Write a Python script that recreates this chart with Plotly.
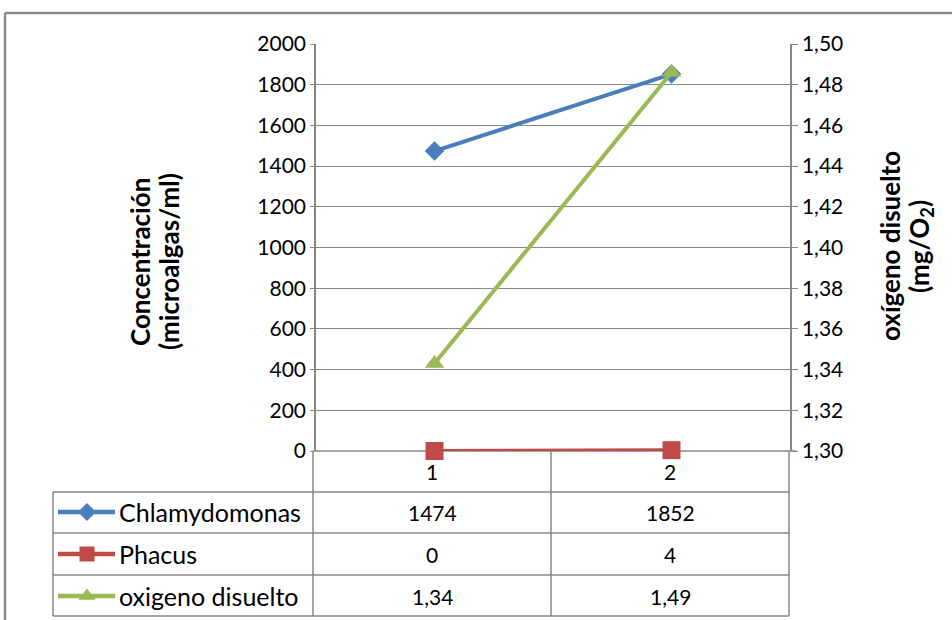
import plotly.graph_objects as go

categories = [1, 2]
chlamy = [1474, 1852]
phacus = [0, 4]
oxygen = [1.343, 1.486]
series_names = ["Chlamydomonas", "Phacus", "oxigeno disuelto"]
left_ticks = list(range(0, 2001, 200))
right_ticks = [1.30 + 0.02 * i for i in range(11)]

W, H = 952, 620
FONT = "Lato"
FS = 21
FS_ROW = 25
FS_TITLE = 26
BLUE = "#4A7EBB"
RED = "#BE4B48"
GREEN = "#98B954"
GRID = "#878787"

x0, x1 = 316, 790
ytop, ybot = 44, 451

fig = go.Figure()

# legend keys in the data table (pixel-space helper axes), drawn first
row_y = [512, 554, 596]
key_syms = [("diamond", 14, BLUE), ("square", 15, RED), ("triangle-up", 15, GREEN)]
for ry, (sym, sz, col) in zip(row_y, key_syms):
    fig.add_trace(go.Scatter(x=[58, 115], y=[ry, ry], xaxis="x3", yaxis="y3",
                             mode="lines", line=dict(color=col, width=4.5),
                             showlegend=False, hoverinfo="skip", cliponaxis=False))
    fig.add_trace(go.Scatter(x=[87], y=[ry], xaxis="x3", yaxis="y3",
                             mode="markers",
                             marker=dict(symbol=sym, size=sz, color=col, opacity=1,
                                         line=dict(width=0)),
                             showlegend=False, hoverinfo="skip", cliponaxis=False))

fig.add_trace(go.Scatter(x=categories, y=chlamy, mode="lines+markers", name=series_names[0],
                         line=dict(color=BLUE, width=4),
                         marker=dict(symbol="diamond", size=15, color=BLUE), cliponaxis=False))
fig.add_trace(go.Scatter(x=categories, y=phacus, mode="lines+markers", name=series_names[1],
                         line=dict(color=RED, width=4),
                         marker=dict(symbol="square", size=18, color=RED), cliponaxis=False))
fig.add_trace(go.Scatter(x=categories, y=oxygen, mode="lines+markers", name=series_names[2],
                         yaxis="y2",
                         line=dict(color=GREEN, width=4),
                         marker=dict(symbol="triangle-up", size=17, color=GREEN), cliponaxis=False))

fig.update_layout(
    width=W, height=H,
    margin=dict(l=0, r=0, t=0, b=0, pad=0),
    paper_bgcolor="white", plot_bgcolor="rgba(0,0,0,0)",
    showlegend=False,
    separators=",.",
    font=dict(family=FONT, size=FS, color="black"),
    xaxis=dict(domain=[x0 / W, x1 / W], range=[0.5, 2.5], showgrid=False,
               showticklabels=False, zeroline=False, showline=False, ticks="",
               automargin=False),
    yaxis=dict(domain=[1 - ybot / H, 1 - ytop / H], range=[0, 2000], tickvals=left_ticks,
               tickformat="d", showgrid=True, gridcolor=GRID, gridwidth=1.3,
               showline=True, linecolor=GRID, linewidth=1.5, zeroline=False,
               ticks="outside", ticklen=4, tickcolor=GRID,
               tickfont=dict(family=FONT, size=FS), automargin=False),
    yaxis2=dict(overlaying="y", side="right", range=[1.30, 1.50], tickvals=right_ticks,
                tickformat=".2f", showgrid=False, showline=True, linecolor=GRID, linewidth=1.5,
                zeroline=False, ticks="outside", ticklen=6, tickcolor=GRID,
                tickfont=dict(family=FONT, size=FS), anchor="x", automargin=False),
    xaxis3=dict(domain=[0, 1], range=[0, W], visible=False, anchor="y3", automargin=False),
    yaxis3=dict(domain=[0, 1], range=[H, 0], visible=False, anchor="x3", automargin=False),
)

def px(x):
    return x / W

def py(y):
    return 1 - y / H

shapes = []
line_style = dict(color=GRID, width=1.5)
# outer chart border
shapes.append(dict(type="line", xref="paper", yref="paper", x0=px(5), x1=px(952), y0=py(13), y1=py(13),
                   line=dict(color="#8A8A8A", width=2.5)))
shapes.append(dict(type="line", xref="paper", yref="paper", x0=px(5), x1=px(5), y0=py(13), y1=py(620),
                   line=dict(color="#8A8A8A", width=2.5)))
# bottom axis line
shapes.append(dict(type="line", xref="paper", yref="paper", x0=px(313), x1=px(796), y0=py(451), y1=py(451),
                   line=line_style, layer="below"))
# vertical table lines
for vx in (313, 551, 789):
    shapes.append(dict(type="line", xref="paper", yref="paper", x0=px(vx), x1=px(vx), y0=py(451), y1=py(616),
                       line=line_style, layer="below"))
shapes.append(dict(type="line", xref="paper", yref="paper", x0=px(53), x1=px(53), y0=py(492), y1=py(616),
                   line=line_style))
for hy in (492, 533, 575, 616):
    shapes.append(dict(type="line", xref="paper", yref="paper", x0=px(53), x1=px(789), y0=py(hy), y1=py(hy),
                       line=line_style))
fig.update_layout(shapes=shapes)

ann = []
col_x = [432, 670]
for cx, c in zip(col_x, categories):
    ann.append(dict(x=px(cx), y=py(472), xref="paper", yref="paper", text=str(c), showarrow=False,
                    xanchor="center", yanchor="middle"))
table_vals = [
    [str(v) for v in chlamy],
    [str(v) for v in phacus],
    [f"{v:.2f}".replace(".", ",") for v in oxygen],
]
for ry, name, vals in zip(row_y, series_names, table_vals):
    ann.append(dict(x=px(117), y=py(ry), xref="paper", yref="paper", text=name, showarrow=False,
                    xanchor="left", yanchor="middle", font=dict(size=FS_ROW)))
    for cx, v in zip(col_x, vals):
        ann.append(dict(x=px(cx), y=py(ry), xref="paper", yref="paper", text=v, showarrow=False,
                        xanchor="center", yanchor="middle"))

# axis titles
tf = dict(family=FONT, size=FS_TITLE, color="black")
ann.append(dict(x=px(140), y=py(262), xref="paper", yref="paper", text="<b>Concentración</b>",
                showarrow=False, textangle=-90, xanchor="center", yanchor="middle", font=tf))
ann.append(dict(x=px(169), y=py(262), xref="paper", yref="paper", text="<b>(microalgas/ml)</b>",
                showarrow=False, textangle=-90, xanchor="center", yanchor="middle", font=tf))
ann.append(dict(x=px(890), y=py(246), xref="paper", yref="paper", text="<b>oxígeno disuelto</b>",
                showarrow=False, textangle=-90, xanchor="center", yanchor="middle", font=tf))
ann.append(dict(x=px(920), y=py(247), xref="paper", yref="paper", text="<b>(mg/O<sub>2</sub>)</b>",
                showarrow=False, textangle=-90, xanchor="center", yanchor="middle", font=tf))
fig.update_layout(annotations=ann)

fig.write_html("out.html")
